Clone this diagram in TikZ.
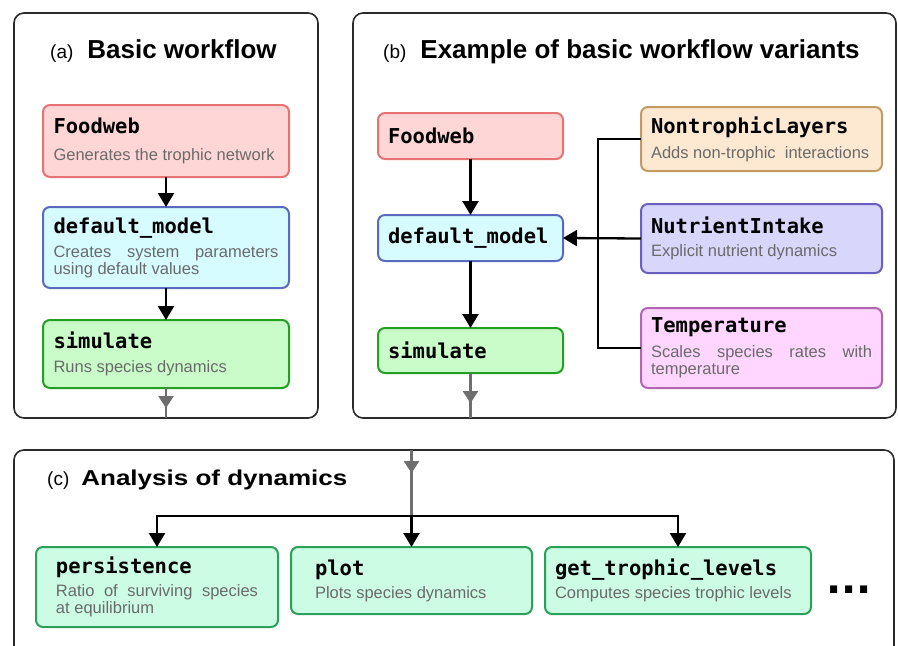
\documentclass[tikz,border=0pt]{standalone}
\usepackage{fontspec}
\setmainfont{Liberation Sans}
\setmonofont{DejaVu Sans Mono}
\newfontfamily\dotsfamily{DejaVu Sans}
\usepackage{xcolor}
\usetikzlibrary{arrows.meta, positioning, decorations.markings}
\hyphenpenalty=10000
\exhyphenpenalty=10000

\definecolor{fwfill}{HTML}{FFD6D6}
\definecolor{fwdraw}{HTML}{E57373}
\definecolor{dmfill}{HTML}{D6FCFF}
\definecolor{dmdraw}{HTML}{5A6ABF}
\definecolor{simfill}{HTML}{C9FCC9}
\definecolor{simdraw}{HTML}{22A022}
\definecolor{ntfill}{HTML}{FDE9D2}
\definecolor{ntdraw}{HTML}{C29A63}
\definecolor{nufill}{HTML}{D9D6FC}
\definecolor{nudraw}{HTML}{6A5FC0}
\definecolor{tpfill}{HTML}{FFD6FF}
\definecolor{tpdraw}{HTML}{B266B2}
\definecolor{anfill}{HTML}{CCFCE3}
\definecolor{andraw}{HTML}{2AA05A}
\definecolor{descgray}{HTML}{6A6A6A}
\definecolor{flowgray}{HTML}{6E6E6E}
\definecolor{framegray}{HTML}{2B2B2B}

\newcommand{\fname}[1]{{\color{black}\ttfamily\bfseries\fontsize{20.5}{17}\selectfont #1}}
\newcommand{\ptag}[1]{{\mdseries\fontsize{19}{19}\selectfont (#1)}}

\tikzset{
	panel/.style={draw=framegray, line width=1.6pt, rounded corners=10pt, outer sep=0pt},
	block/.style={draw, line width=2pt, rounded corners=7pt, outer sep=0pt, inner sep=0pt, align=justify, text=descgray, font=\fontsize{16.5}{17}\selectfont},
	paneltitle/.style={anchor=base west, inner sep=0pt, font=\bfseries\fontsize{26}{30}\selectfont},
	flow/.style={line width=2.3pt, -{Triangle[width=16pt, length=14pt]}},
	bus/.style={line width=2.3pt},
	midarrow/.style={color=flowgray, line width=2.2pt, postaction={decorate}, decoration={markings, mark=at position #1 with {\arrow{Triangle[width=15pt, length=12pt]}}}},
	foodweb/.style={block, draw=fwdraw, fill=fwfill},
	model/.style={block, draw=dmdraw, fill=dmfill},
	simul/.style={block, draw=simdraw, fill=simfill},
	nontroph/.style={block, draw=ntdraw, fill=ntfill},
	nutrient/.style={block, draw=nudraw, fill=nufill},
	temper/.style={block, draw=tpdraw, fill=tpfill},
	analysis/.style={block, draw=andraw, fill=anfill}
}

\begin{document}
\begin{tikzpicture}[x=1pt, y=1pt]
	\path[use as bounding box, clip] (0,0) rectangle (898,-646);

	% (a) basic workflow
	\node[panel, minimum width=304pt, minimum height=405pt] (panelA) at (166,-215.5) {};
	\node[paneltitle] (titleA) at (50,-58) {\ptag{a}\hspace{14pt}Basic workflow};
	\node[foodweb, minimum width=246pt, minimum height=72pt, text width=225pt] (foodA) at (166,-141) {\fname{Foodweb}\\[10pt]Generates the trophic network};
	\node[model, minimum width=246pt, minimum height=81pt, text width=225pt, below=30pt of foodA] (modelA) {\fname{default\_model}\\[7pt]Creates system parameters\linebreak using default values};
	\node[simul, minimum width=246pt, minimum height=68pt, text width=225pt, below=32pt of modelA] (simA) {\fname{simulate}\\[7pt]Runs species dynamics};

	\draw (foodA) edge[flow] (modelA);
	\draw (modelA) edge[flow] (simA);
	\draw[midarrow=0.67] (simA.south) -- (simA.south |- panelA.south);

	% (b) variants
	\node[panel, minimum width=543pt, minimum height=405pt] (panelB) at (624.5,-215.5) {};
	\node[paneltitle] (titleB) at (383,-58) {\ptag{b}\hspace{14pt}Example of basic workflow variants};
	\node[foodweb, minimum width=185pt, minimum height=46pt, text width=165pt] (foodB) at (470.5,-136) {\fname{Foodweb}};
	\node[model, minimum width=185pt, minimum height=46pt, text width=165pt, below=56pt of foodB] (modelB) {\fname{default\_model}};
	\node[simul, minimum width=185pt, minimum height=45pt, text width=165pt, below=67pt of modelB] (simB) {\fname{simulate}};
	\node[nontroph, minimum width=241pt, minimum height=64pt, text width=221pt] (layersB) at (761.5,-139) {\fname{NontrophicLayers}\\[8pt]Adds non-trophic\ \ interactions};
	\node[nutrient, minimum width=241pt, minimum height=69pt, text width=221pt, below=33pt of layersB] (nutrientB) {\fname{NutrientIntake}\\[6pt]Explicit nutrient dynamics};
	\node[temper, minimum width=241pt, minimum height=80pt, text width=221pt, below=35pt of nutrientB] (tempB) {\fname{Temperature}\\[8pt]Scales species rates with\linebreak temperature};
	\coordinate[left=43pt of layersB.west] (busB);

	\draw (foodB) edge[flow] (modelB);
	\draw (modelB) edge[flow] (simB);
	\draw[midarrow=0.67] (simB.south) -- (simB.south |- panelB.south);
	\draw[bus] (layersB.west) -- (busB) |- (tempB.west);
	\draw[flow] (nutrientB.west) -- (modelB.east);

	% (c) analysis
	\node[panel, minimum width=880pt, minimum height=260pt] (panelC) at (454,-580) {};
	\node[paneltitle] (titleC) at (47,-485) {\ptag{c}\hspace{12pt}\scalebox{1.21}[1]{\fontsize{21.5}{24}\selectfont Analysis of dynamics}};
	\node[analysis, minimum width=242pt, minimum height=80pt, text width=202pt] (persC) at (157,-587) {\fname{persistence}\\[6pt]Ratio of surviving species\linebreak at equilibrium};
	\node[analysis, minimum width=241pt, minimum height=67pt, text width=193pt, below right=0pt and 13pt of persC.north east] (plotC) {\fname{plot}\\[6pt]Plots species dynamics};
	\node[analysis, minimum width=266pt, minimum height=67pt, text width=246pt, below right=0pt and 13pt of plotC.north east] (levelsC) {\fname{get\_trophic\_levels}\\[6pt]Computes species trophic levels};
	\node[inner sep=0pt, font=\dotsfamily\bfseries\fontsize{40}{40}\selectfont] (moreC) at (849,-590) {...};
	\coordinate[above=31pt of plotC.north] (splitC);

	\draw[midarrow=0.35] (splitC |- panelC.north) -- (splitC);
	\draw[flow] (splitC) -- (plotC.north);
	\draw[flow] (splitC) -| (persC.north);
	\draw[flow] (splitC) -| (levelsC.north);
\end{tikzpicture}
\end{document}
